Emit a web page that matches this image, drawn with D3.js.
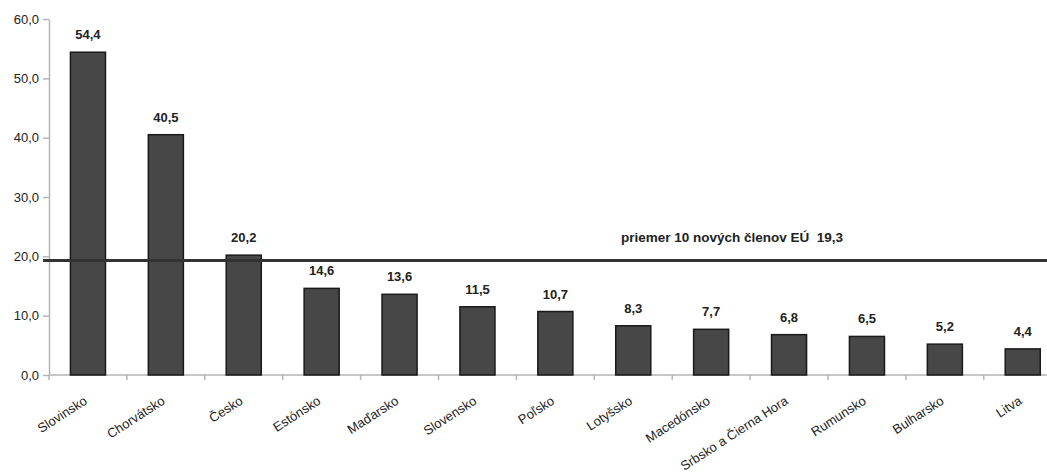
<!DOCTYPE html>
<html>
<head>
<meta charset="utf-8">
<script src="https://cdn.jsdelivr.net/npm/d3@7"></script>
<style>
  html, body { margin: 0; padding: 0; background: #fff; }
  svg { display: block; }
  text { font-family: "Liberation Sans", Arial, sans-serif; fill: #222; }
</style>
</head>
<body>
<svg id="chart" width="1047" height="476"></svg>
<script>
const countries = ["Slovinsko", "Chorvátsko", "Česko", "Estónsko", "Maďarsko", "Slovensko",
  "Poľsko", "Lotyšsko", "Macedónsko", "Srbsko a Čierna Hora", "Rumunsko", "Bulharsko", "Litva"];
const values = [54.4, 40.5, 20.2, 14.6, 13.6, 11.5, 10.7, 8.3, 7.7, 6.8, 6.5, 5.2, 4.4];
const yTicks = [0, 10, 20, 30, 40, 50, 60];
const averageValue = 19.3;
const averageLabel = "priemer 10 nových členov EÚ";

const fmt = v => d3.format(".1f")(v).replace(".", ",");

const svg = d3.select("#chart");
const margin = { left: 49, top: 19, bottom: 101 };
const plotRight = 49 + 13 * 77.9;
const height = 476;

const x = d3.scaleBand().domain(countries).range([margin.left, plotRight]).paddingInner(0.55).paddingOuter(0.275);
const xBound = d3.scaleLinear().domain([0, countries.length]).range([margin.left, plotRight]);
const y = d3.scaleLinear().domain([0, 60]).range([height - margin.bottom, margin.top]);

// y axis
const yAxis = svg.append("g").attr("transform", `translate(${margin.left},0)`)
  .call(d3.axisLeft(y).tickValues(yTicks).tickFormat(fmt).tickSize(6).tickSizeOuter(0));
yAxis.select(".domain").attr("stroke", "#b5b5b5").attr("stroke-width", 1.5);
yAxis.selectAll(".tick line").attr("stroke", "#b5b5b5").attr("stroke-width", 1.5);
yAxis.selectAll(".tick text").attr("x", -10).style("font-size", "13px")
  .style("font-family", "Liberation Sans, Arial, sans-serif").attr("fill", "#222");

// x axis baseline and category boundary ticks
const base = y(0);
svg.append("line").attr("x1", margin.left).attr("x2", plotRight).attr("y1", base).attr("y2", base)
  .attr("stroke", "#b5b5b5").attr("stroke-width", 1.5);
svg.append("g").selectAll("line").data(d3.range(0, countries.length + 1)).join("line")
  .attr("x1", d => xBound(d)).attr("x2", d => xBound(d))
  .attr("y1", base).attr("y2", base + 5)
  .attr("stroke", "#b5b5b5").attr("stroke-width", 1.5);

// bars
svg.append("g").selectAll("rect").data(values).join("rect")
  .attr("x", (d, i) => x(countries[i]))
  .attr("width", x.bandwidth())
  .attr("y", d => y(d))
  .attr("height", d => base - y(d))
  .attr("fill", "#474747")
  .attr("stroke", "#1a1a1a")
  .attr("stroke-width", 1.5);

// value labels
svg.append("g").selectAll("text").data(values).join("text")
  .attr("x", (d, i) => x(countries[i]) + x.bandwidth() / 2)
  .attr("y", d => y(d) - 13)
  .attr("text-anchor", "middle")
  .style("font-size", "13px").style("font-weight", "bold")
  .text(d => fmt(d));

// average line
svg.append("line").attr("x1", margin.left - 6).attr("x2", 1047)
  .attr("y1", y(averageValue)).attr("y2", y(averageValue))
  .attr("stroke", "#333").attr("stroke-width", 3);
svg.append("text").attr("x", 732).attr("y", y(averageValue) - 18)
  .attr("text-anchor", "middle").style("font-size", "13.5px").style("font-weight", "bold")
  .attr("xml:space", "preserve")
  .text(averageLabel + "  " + fmt(averageValue));

// category labels
svg.append("g").selectAll("text").data(countries).join("text")
  .attr("transform", d => `translate(${x(d) + x.bandwidth() / 2},${base + 28}) rotate(-33)`)
  .attr("text-anchor", "end")
  .style("font-size", "13px")
  .text(d => d);
</script>
</body>
</html>
